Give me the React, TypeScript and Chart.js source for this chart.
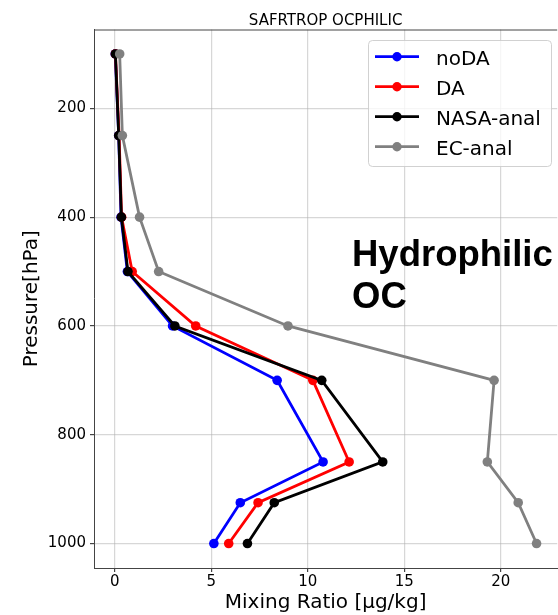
import React, { useEffect, useRef } from "react";
import { Chart, registerables } from "chart.js";

Chart.register(...registerables);

const levels = [100, 250, 400, 500, 600, 700, 850, 925, 1000];
const noDA = [0.02, 0.2, 0.32, 0.65, 2.99, 8.41, 10.79, 6.5, 5.13];
const DA = [0.03, 0.22, 0.35, 0.9, 4.19, 10.26, 12.14, 7.42, 5.9];
const NASA = [0.03, 0.2, 0.34, 0.68, 3.11, 10.72, 13.88, 8.26, 6.87];
const EC = [0.25, 0.39, 1.28, 2.27, 8.97, 19.65, 19.3, 20.9, 21.85];

const seriesNames = ["noDA", "DA", "NASA-anal", "EC-anal"];
const seriesColors = ["#0000ff", "#ff0000", "#000000", "#808080"];
const seriesValues = [noDA, DA, NASA, EC];

const xTicks = [0, 5, 10, 15, 20];
const yTicks = [200, 400, 600, 800, 1000];

const FONT = "'DejaVu Sans', sans-serif";

const extrasPlugin = {
  id: "extras",
  afterDraw(chart: any) {
    const ctx = chart.ctx;
    const ca = chart.chartArea;
    ctx.save();
    // top spine
    ctx.strokeStyle = "#444";
    ctx.lineWidth = 1;
    ctx.beginPath();
    ctx.moveTo(ca.left, ca.top + 0.5);
    ctx.lineTo(ca.right, ca.top + 0.5);
    ctx.stroke();

    // annotation text
    ctx.fillStyle = "#000";
    ctx.font = "bold 36.5px 'Liberation Sans', Arial, sans-serif";
    ctx.textBaseline = "alphabetic";
    ctx.textAlign = "left";
    ctx.fillText("Hydrophilic", 352, 266);
    ctx.fillText("OC", 352, 308);

    // legend
    const bx = 368.5, by = 40.5, bw = 183, bh = 126, r = 4;
    ctx.beginPath();
    ctx.moveTo(bx + r, by);
    ctx.lineTo(bx + bw - r, by);
    ctx.arcTo(bx + bw, by, bx + bw, by + r, r);
    ctx.lineTo(bx + bw, by + bh - r);
    ctx.arcTo(bx + bw, by + bh, bx + bw - r, by + bh, r);
    ctx.lineTo(bx + r, by + bh);
    ctx.arcTo(bx, by + bh, bx, by + bh - r, r);
    ctx.lineTo(bx, by + r);
    ctx.arcTo(bx, by, bx + r, by, r);
    ctx.closePath();
    ctx.fillStyle = "rgba(255,255,255,0.8)";
    ctx.fill();
    ctx.strokeStyle = "rgba(204,204,204,0.9)";
    ctx.lineWidth = 1;
    ctx.stroke();

    ctx.font = `20px ${FONT}`;
    seriesNames.forEach((name, i) => {
      const y = 56.7 + i * 30;
      ctx.strokeStyle = seriesColors[i];
      ctx.lineWidth = 2.8;
      ctx.beginPath();
      ctx.moveTo(375, y);
      ctx.lineTo(419, y);
      ctx.stroke();
      ctx.fillStyle = seriesColors[i];
      ctx.beginPath();
      ctx.arc(397, y, 4.7, 0, Math.PI * 2);
      ctx.fill();
      ctx.fillStyle = "#000";
      ctx.textBaseline = "alphabetic";
      ctx.fillText(name, 436, y + 8.5);
    });
    ctx.restore();
  },
};

export default function App() {
  const ref = useRef<HTMLCanvasElement | null>(null);

  useEffect(() => {
    if (!ref.current) return;
    const datasets = seriesNames.map((name, i) => ({
      label: name,
      data: levels.map((p, j) => ({ x: seriesValues[i][j], y: p })),
      borderColor: seriesColors[i],
      backgroundColor: seriesColors[i],
      pointBackgroundColor: seriesColors[i],
      pointBorderWidth: 0,
      pointRadius: 4.8,
      borderWidth: 2.8,
      tension: 0,
      fill: false,
      order: 4 - i,
    }));

    const chart = new Chart(ref.current, {
      type: "line",
      data: { datasets },
      plugins: [extrasPlugin],
      options: {
        animation: false,
        responsive: false,
        devicePixelRatio: 1,
        layout: { padding: 0 },
        plugins: {
          legend: { display: false },
          tooltip: { enabled: false },
          title: {
            display: true,
            text: "SAFRTROP OCPHILIC",
            fullSize: false,
            color: "#000",
            font: { family: FONT, size: 15, weight: "normal", lineHeight: 1 },
            padding: { top: 14, bottom: 0.5 },
          },
        },
        scales: {
          x: {
            type: "linear",
            min: -1.08,
            max: 22.92,
            afterBuildTicks: (axis: any) => {
              axis.ticks = xTicks.map((v) => ({ value: v }));
            },
            afterFit: (scale: any) => {
              scale.height = 47;
            },
            ticks: {
              color: "#000",
              font: { family: FONT, size: 15 },
              padding: 1,
              maxRotation: 0,
              autoSkip: false,
              callback: (v: any) => String(v),
            },
            grid: {
              color: "rgba(176,176,176,0.5)",
              lineWidth: 1.2,
              tickColor: "#444",
              tickLength: 4,
            },
            border: { display: true, color: "#444", width: 1 },
            title: {
              display: true,
              text: "Mixing Ratio [μg/kg]",
              color: "#000",
              font: { family: FONT, size: 20 },
              padding: { top: 0, bottom: 0 },
            },
          },
          y: {
            type: "linear",
            reverse: true,
            min: 55,
            max: 1045,
            afterBuildTicks: (axis: any) => {
              axis.ticks = yTicks.map((v) => ({ value: v }));
            },
            afterFit: (scale: any) => {
              scale.width = 94;
            },
            ticks: {
              color: "#000",
              font: { family: FONT, size: 15 },
              padding: 4,
              autoSkip: false,
              callback: (v: any) => String(v),
            },
            grid: {
              color: "rgba(176,176,176,0.5)",
              lineWidth: 1.2,
              tickColor: "#444",
              tickLength: 4,
            },
            border: { display: true, color: "#444", width: 1 },
            title: {
              display: true,
              text: "Pressure[hPa]",
              color: "#000",
              font: { family: FONT, size: 20 },
              padding: { top: 20, bottom: 0 },
            },
          },
        },
      },
    } as any);
    return () => chart.destroy();
  }, []);

  return (
    <div
      style={{
        position: "fixed",
        left: 0,
        top: 0,
        width: 558,
        height: 615,
        overflow: "hidden",
        background: "#fff",
      }}
    >
      <canvas ref={ref} width={562} height={615} style={{ width: 562, height: 615, display: "block" }} />
    </div>
  );
}
